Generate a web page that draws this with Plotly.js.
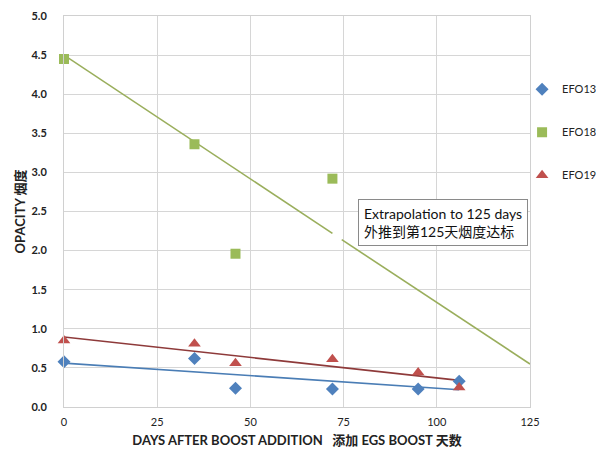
<!DOCTYPE html>
<html>
<head>
<meta charset="utf-8">
<script src="https://cdn.plot.ly/plotly-3.0.1.min.js"></script>
<style>html,body{margin:0;padding:0;background:#fff;}#chart{width:596px;height:453px;}</style>
</head>
<body>
<div id="chart"></div>
<script>
// Data
const days = [0, 35, 46, 72, 95, 106];
const efo13 = [0.58, 0.62, 0.24, 0.23, 0.23, 0.33];
const efo19 = [0.85, 0.81, 0.56, 0.61, 0.44, 0.25];
const efo18Days = [0, 35, 46, 72];
const efo18 = [4.45, 3.36, 1.96, 2.92];
// Hand-drawn extrapolation line for EFO18 (with the small break seen in the picture)
const extrapDays = [0, 72, null, 74.5, 125];
const extrapOpacity = [4.5, 2.22, null, 2.14, 0.55];
const xTicks = [0, 25, 50, 75, 100, 125];
const yTicks = [0, 0.5, 1, 1.5, 2, 2.5, 3, 3.5, 4, 4.5, 5];

const FONT = "Lato, 'Noto Sans CJK SC', 'Noto Sans', sans-serif";

function linFit(xs, ys) {
  const n = xs.length;
  const mx = xs.reduce((a, b) => a + b, 0) / n;
  const my = ys.reduce((a, b) => a + b, 0) / n;
  let sxy = 0, sxx = 0;
  for (let i = 0; i < n; i++) { sxy += (xs[i] - mx) * (ys[i] - my); sxx += (xs[i] - mx) ** 2; }
  const m = sxy / sxx, b = my - m * mx;
  const x0 = Math.min(...xs), x1 = Math.max(...xs);
  return { x: [x0, x1], y: [m * x0 + b, m * x1 + b] };
}

const fit13 = linFit(days, efo13);
const fit19 = linFit(days, efo19);

const traces = [
  { x: fit13.x, y: fit13.y, mode: 'lines', line: { color: '#4A7DB5', width: 1.6 }, showlegend: false, hoverinfo: 'skip' },
  { x: fit19.x, y: fit19.y, mode: 'lines', line: { color: '#8E3A3A', width: 1.6 }, showlegend: false, hoverinfo: 'skip' },
  { x: extrapDays, y: extrapOpacity, mode: 'lines', line: { color: '#9AAE5C', width: 1.6 }, showlegend: false, hoverinfo: 'skip', connectgaps: false },
  { x: days, y: efo13, name: 'EFO13', legendgroup: 'a', mode: 'markers', cliponaxis: false,
    marker: { symbol: 'diamond', size: 10, color: '#4F81BD' } },
  { x: efo18Days, y: efo18, name: 'EFO18', legendgroup: 'b', mode: 'markers', cliponaxis: false,
    marker: { symbol: 'square', size: 10, color: '#9BBB59' } },
  { x: days, y: efo19, name: 'EFO19', legendgroup: 'c', mode: 'markers', cliponaxis: false,
    marker: { symbol: 'triangle-up', size: 11, color: '#C0504D' } }
];

const layout = {
  width: 596, height: 453,
  margin: { l: 64, r: 66, t: 16, b: 46, autoexpand: false },
  paper_bgcolor: '#ffffff', plot_bgcolor: '#ffffff',
  font: { family: FONT, color: '#222', size: 11 },
  showlegend: true,
  legend: {
    x: 0.983, xanchor: 'left', y: 0.85, yanchor: 'top',
    tracegroupgap: 24, font: { size: 11, color: '#222' },
    bgcolor: 'rgba(0,0,0,0)', itemclick: false
  },
  xaxis: {
    range: [0, 125], tickvals: xTicks, ticktext: xTicks.map(String),
    showgrid: true, gridcolor: '#d6d6d6', gridwidth: 1,
    zeroline: false, showline: true, linecolor: '#d0d0d0', mirror: true,
    ticks: 'outside', ticklen: 5, tickcolor: 'rgba(0,0,0,0)',
    tickfont: { size: 11, color: '#222' },
    title: { text: '<b>DAYS AFTER BOOST ADDITION   添加 EGS BOOST 天数</b>', font: { size: 13, color: '#222' }, standoff: 8 }
  },
  yaxis: {
    range: [0, 5], tickvals: yTicks, ticktext: yTicks.map(v => '<b>' + v.toFixed(1) + '</b>'),
    showgrid: true, gridcolor: '#d6d6d6', gridwidth: 1,
    zeroline: false, showline: true, linecolor: '#d0d0d0', mirror: true,
    ticks: 'outside', ticklen: 14, tickcolor: 'rgba(0,0,0,0)',
    tickfont: { size: 11, color: '#222' },
    title: { text: '<b>OPACITY 烟度</b>', font: { size: 13, color: '#222' }, standoff: 2 }
  },
  annotations: [{
    x: 101.6, y: 2.36, xref: 'x', yref: 'y',
    text: 'Extrapolation to 125 days<br>外推到第125天烟度达标',
    showarrow: false, align: 'left',
    font: { size: 14, color: '#111', family: FONT },
    bgcolor: '#ffffff', bordercolor: '#8a8a8a', borderwidth: 1, borderpad: 5
  }]
};

Plotly.newPlot('chart', traces, layout, { displayModeBar: false, staticPlot: true });
</script>
</body>
</html>
